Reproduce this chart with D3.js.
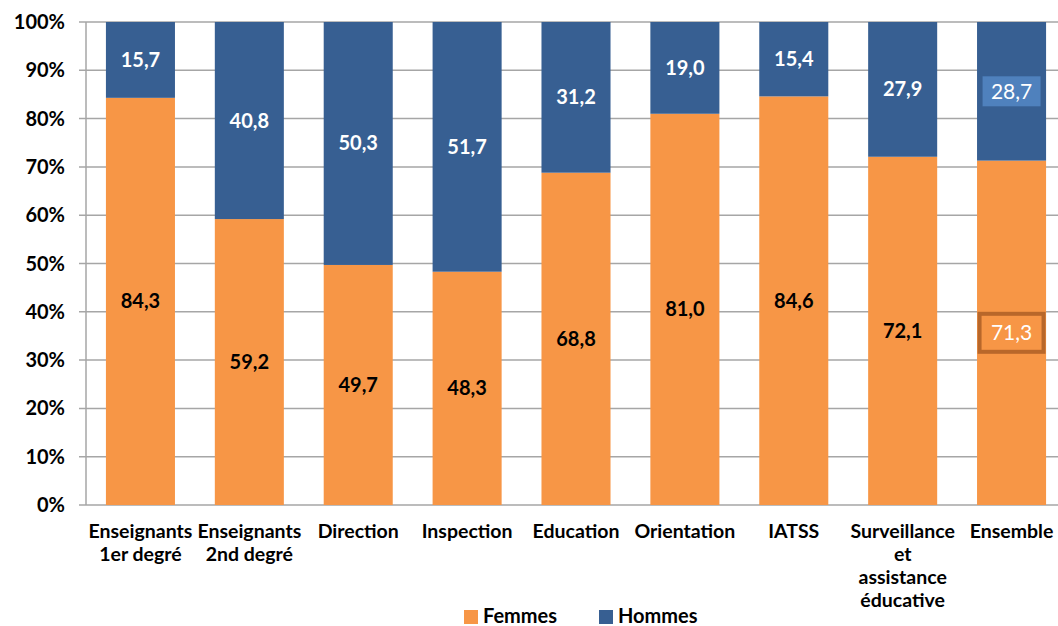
<!DOCTYPE html>
<html>
<head>
<meta charset="utf-8">
<script src="https://cdn.jsdelivr.net/npm/d3@7"></script>
<style>
body{margin:0;background:#fff;}
text{font-family:Lato,"Open Sans",sans-serif;}
</style>
</head>
<body>
<div id="chart-area"></div>
<script>
var categories = ["Enseignants 1er degré","Enseignants 2nd degré","Direction","Inspection","Education","Orientation","IATSS","Surveillance et assistance éducative","Ensemble"];
var catLines = [["Enseignants","1er degré"],["Enseignants","2nd degré"],["Direction"],["Inspection"],["Education"],["Orientation"],["IATSS"],["Surveillance","et","assistance","éducative"],["Ensemble"]];
var femmes = [84.3,59.2,49.7,48.3,68.8,81.0,84.6,72.1,71.3];
var hommes = [15.7,40.8,50.3,51.7,31.2,19.0,15.4,27.9,28.7];
var yTicks = [0,10,20,30,40,50,60,70,80,90,100];
var seriesNames = ["Femmes","Hommes"];

var total_width = 1058, total_height = 626;
var margin = {top:22,left:86,bottom:121};
var width = 980, height = total_height - margin.top - margin.bottom;

var orange = "#f79646", blue = "#375f92";

var svg = d3.select('#chart-area').append('svg')
            .attr("width",total_width)
            .attr("height",total_height);

var chart = svg.append('g')
               .attr("transform","translate("+margin.left+","+margin.top+")");

var x = d3.scaleBand().domain(categories).range([0,width]).paddingInner(0.366).paddingOuter(0.183);
var y = d3.scaleLinear().domain([0,100]).range([height,0]);

// grid
chart.selectAll('.grid').data(yTicks).enter().append('line')
     .attr("x1",-7).attr("x2",width)
     .attr("y1",d => y(d)).attr("y2",d => y(d))
     .attr("stroke","#a6a6a6").attr("stroke-width",1.5);

chart.append('line').attr("x1",0).attr("x2",0).attr("y1",0).attr("y2",height)
     .attr("stroke","#a6a6a6").attr("stroke-width",1.5);

chart.selectAll('.ytick').data(yTicks).enter().append('text')
     .attr("x",-21).attr("y",d => y(d)).attr("dy","0.35em")
     .attr("text-anchor","end").attr("font-size","20px").attr("font-weight","bold")
     .text(d => d + "%");

var data = categories.map((c,i) => ({c:c,f:femmes[i],h:hommes[i],i:i}));

// bars
chart.selectAll('.bf').data(data).enter().append('rect')
     .attr("x",d => x(d.c)).attr("width",x.bandwidth())
     .attr("y",d => y(d.f)).attr("height",d => height - y(d.f))
     .attr("fill",orange);
chart.selectAll('.bh').data(data).enter().append('rect')
     .attr("x",d => x(d.c)).attr("width",x.bandwidth())
     .attr("y",0).attr("height",d => y(d.f))
     .attr("fill",blue);

var last = categories.length - 1;

// labels
data.forEach(function(d){
  var cx = x(d.c) + x.bandwidth()/2;
  var yf = y(d.f/2), yh = y(d.f + d.h/2);
  var fmt = v => v.toFixed(1).replace(".",",");
  if (d.i == last) {
    chart.append('rect').attr("x",cx-29).attr("y",yh-15).attr("width",58).attr("height",30)
         .attr("fill","#4f81bd");
    chart.append('text').attr("x",cx).attr("y",yh).attr("dy","0.35em")
         .attr("text-anchor","middle").attr("font-size","21px").attr("fill","#fff")
         .text(fmt(d.h));
    chart.append('rect').attr("x",cx-32).attr("y",yf-19).attr("width",64).attr("height",38)
         .attr("fill",orange).attr("stroke","#b8672a").attr("stroke-width",4);
    chart.append('text').attr("x",cx).attr("y",yf).attr("dy","0.35em")
         .attr("text-anchor","middle").attr("font-size","21px").attr("fill","#fff")
         .text(fmt(d.f));
  } else {
    chart.append('text').attr("x",cx).attr("y",yh).attr("dy","0.35em")
         .attr("text-anchor","middle").attr("font-size","20px").attr("font-weight","bold").attr("fill","#fff")
         .text(fmt(d.h));
    chart.append('text').attr("x",cx).attr("y",yf).attr("dy","0.35em")
         .attr("text-anchor","middle").attr("font-size","20px").attr("font-weight","bold").attr("fill","#000")
         .text(fmt(d.f));
  }
});

// category labels
data.forEach(function(d){
  var cx = x(d.c) + x.bandwidth()/2;
  var t = chart.append('text').attr("text-anchor","middle").attr("font-size","19.5px").attr("font-weight","bold")
               .attr("y",height + 33);
  catLines[d.i].forEach(function(l,j){
    t.append('tspan').attr("x",cx).attr("dy", j == 0 ? 0 : "1.18em").text(l);
  });
});

// legend
var legend = svg.append('g');
var lx = [464,599];
seriesNames.forEach(function(n,i){
  legend.append('rect').attr("x",lx[i]).attr("y",610).attr("width",14).attr("height",14)
        .attr("fill", i == 0 ? orange : blue);
  legend.append('text').attr("x",lx[i]+19).attr("y",616).attr("dy","0.35em")
        .attr("font-size","20px").attr("font-weight","bold").text(n);
});
</script>
</body>
</html>
